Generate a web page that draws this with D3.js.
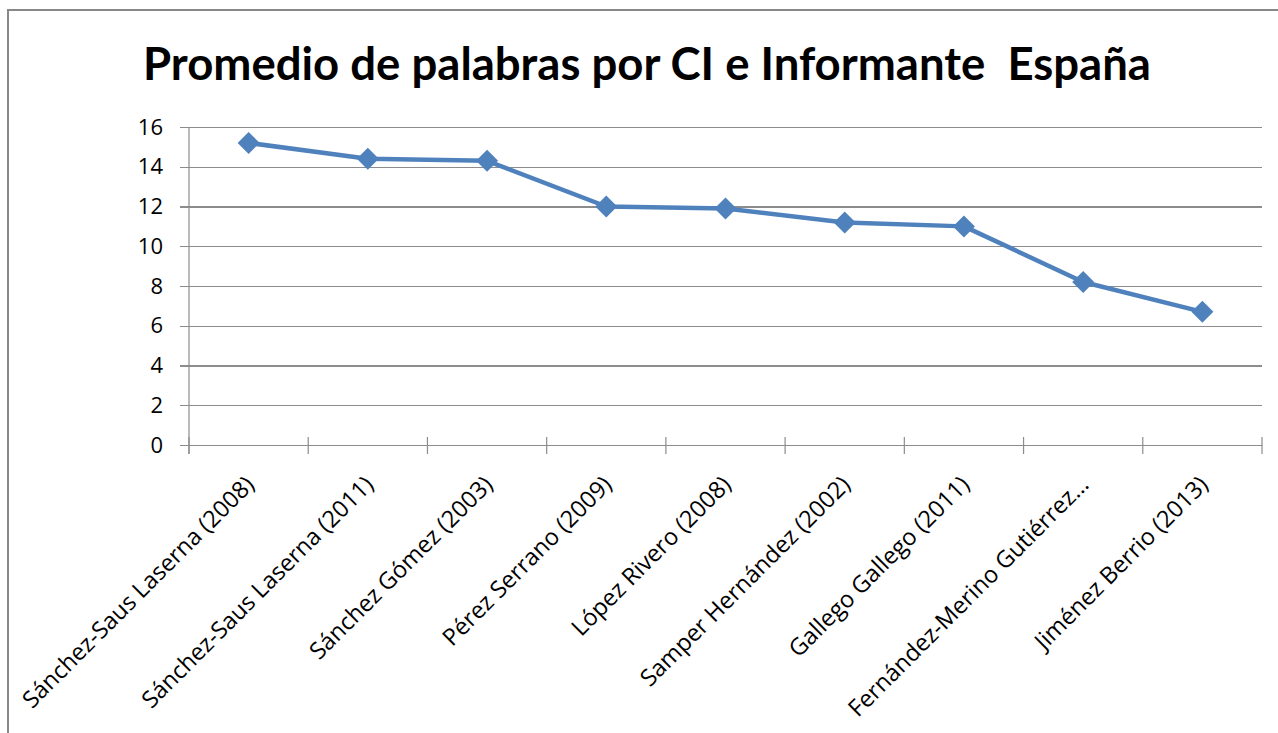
<!DOCTYPE html>
<html lang="es">
<head>
<meta charset="UTF-8">
<script src="https://cdn.jsdelivr.net/npm/d3@7"></script>
<title>Promedio de palabras</title>
<style>
	body { margin: 0; background: #fff; }
	text { font-family: "Open Sans", Lato, sans-serif; fill: #000; }
	.title { font-family: Lato, "Open Sans", sans-serif; white-space: pre; }
	.grid line { stroke: #8c8c8c; stroke-width: 1.2; shape-rendering: crispEdges; }
</style>
</head>
<body>
<div id="chart"></div>
<script>
	const categories = [
		'Sánchez-Saus Laserna (2008)',
		'Sánchez-Saus Laserna (2011)',
		'Sánchez Gómez (2003)',
		'Pérez Serrano (2009)',
		'López Rivero (2008)',
		'Samper Hernández (2002)',
		'Gallego Gallego (2011)',
		'Fernández-Merino Gutiérrez…',
		'Jiménez Berrio (2013)'
	];
	const values = [15.2, 14.4, 14.3, 12.0, 11.9, 11.2, 11.0, 8.2, 6.7];
	const yTicks = [0, 2, 4, 6, 8, 10, 12, 14, 16];
	const title = 'Promedio de palabras por CI e Informante  España';

	const width = 1278, height = 733;
	const plotLeft = 189, plotRight = 1262, plotTop = 127, plotBottom = 445;

	const svg = d3.select('#chart').append('svg')
		.attr('width', width)
		.attr('height', height);

	// marco del gráfico (recortado por la derecha y abajo)
	svg.append('rect')
		.attr('x', 8).attr('y', 10)
		.attr('width', 1300).attr('height', 800)
		.attr('fill', 'none')
		.attr('stroke', '#888')
		.attr('stroke-width', 2);

	svg.append('text')
		.attr('class', 'title')
		.attr('x', 647).attr('y', 80)
		.attr('text-anchor', 'middle')
		.style('font-size', '45.5px')
		.style('font-weight', 'bold')
		.text(title);

	const x = d3.scaleBand().domain(categories).range([plotLeft, plotRight]);
	const y = d3.scaleLinear().domain([0, 16]).range([plotBottom, plotTop]);

	// líneas de división
	svg.append('g')
		.attr('class', 'grid')
		.attr('transform', `translate(${plotLeft},0)`)
		.call(d3.axisLeft(y).tickValues(yTicks).tickSize(9).tickFormat(''))
		.call(g => g.select('.domain').remove())
		.call(g => g.selectAll('.tick').append('line')
			.attr('x2', plotRight - plotLeft));

	const yAxis = svg.append('g')
		.attr('transform', `translate(${plotLeft},0)`)
		.call(d3.axisLeft(y).tickValues(yTicks).tickSize(0).tickPadding(26));
	yAxis.select('.domain').remove();
	yAxis.selectAll('text')
		.style('font-size', '22px')
		.style('font-family', '"Open Sans", sans-serif')
		.attr('fill', '#000');

	svg.append('line')
		.attr('x1', plotLeft).attr('x2', plotLeft)
		.attr('y1', plotTop).attr('y2', plotBottom + 9)
		.attr('stroke', '#8c8c8c').attr('stroke-width', 1.2);

	// eje de categorías
	const xAxis = svg.append('g')
		.attr('transform', `translate(0,${plotBottom})`)
		.call(d3.axisBottom(x).tickSize(0).tickFormat(''));
	xAxis.select('.domain').attr('stroke', '#8c8c8c').attr('stroke-width', 1.2);
	xAxis.selectAll('.tick').remove();

	const bounds = categories.map(c => x(c)).concat([plotRight]);
	svg.append('g').selectAll('line')
		.data(bounds)
		.join('line')
		.attr('x1', d => d).attr('x2', d => d)
		.attr('y1', plotBottom - 8).attr('y2', plotBottom + 9)
		.attr('stroke', '#8c8c8c').attr('stroke-width', 1.2);

	svg.append('g').selectAll('text')
		.data(categories)
		.join('text')
		.attr('transform', d => `translate(${x(d) + x.bandwidth() / 2 + 7},${plotBottom + 41}) rotate(-45)`)
		.attr('text-anchor', 'end')
		.style('font-size', '23.5px')
		.text(d => d);

	// serie
	const line = d3.line()
		.x((d, i) => x(categories[i]) + x.bandwidth() / 2)
		.y(d => y(d));

	svg.append('path')
		.datum(values)
		.attr('d', line)
		.attr('fill', 'none')
		.attr('stroke', '#4f81bd')
		.attr('stroke-width', 4.5)
		.attr('stroke-linejoin', 'round');

	svg.append('g').selectAll('path')
		.data(values)
		.join('path')
		.attr('transform', (d, i) => `translate(${x(categories[i]) + x.bandwidth() / 2},${y(d)})`)
		.attr('d', 'M0,-11L11,0L0,11L-11,0Z')
		.attr('fill', '#4f81bd');
</script>
</body>
</html>
